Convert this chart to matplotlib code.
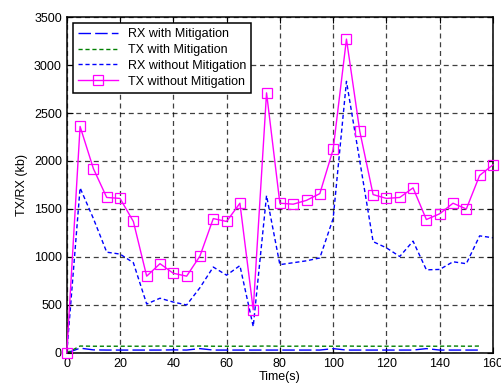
import matplotlib
matplotlib.use("Agg")
import matplotlib.pyplot as plt

plt.rcParams['font.family'] = ['Liberation Sans', 'DejaVu Sans']

# time axis (s)
t = [0, 5, 10, 15, 20, 25, 30, 35, 40, 45, 50, 55, 60, 65, 70, 75, 80,
     85, 90, 95, 100, 105, 110, 115, 120, 125, 130, 135, 140, 145, 150, 155, 160]

tx_without = [0, 2360, 1920, 1620, 1610, 1370, 800, 930, 830, 800, 1010, 1400,
              1370, 1560, 450, 2710, 1560, 1550, 1590, 1660, 2120, 3270, 2310,
              1650, 1610, 1620, 1720, 1390, 1450, 1560, 1500, 1850, 1960]

rx_without = [0, 1720, 1400, 1050, 1030, 940, 510, 570, 530, 500, 680, 895,
              810, 910, 275, 1640, 920, 940, 960, 990, 1400, 2830, 2000,
              1160, 1095, 1005, 1165, 866, 870, 950, 930, 1220, 1200]

# with mitigation: both stop at 155 s
t_mit = t[:-1]
tx_with = [0, 72, 70, 70, 70, 70, 70, 72, 70, 70, 72, 70, 70, 70, 70, 72, 70,
           70, 72, 70, 70, 72, 70, 70, 70, 70, 72, 70, 70, 72, 70, 72]
rx_with = [0, 50, 32, 30, 30, 30, 30, 30, 32, 30, 45, 30, 30, 30, 30, 30, 30,
           30, 30, 30, 45, 30, 30, 30, 30, 30, 30, 45, 30, 30, 30, 30]

fig = plt.figure(figsize=(5.02, 3.87), dpi=100)
ax = fig.add_axes([0.133, 0.088, 0.849, 0.868])

ax.plot(t_mit, rx_with, color='#0000ff', lw=1.0, dashes=(9, 3), label='RX with Mitigation')
ax.plot(t_mit, tx_with, color='#008000', lw=1.0, dashes=(3, 2), label='TX with Mitigation')
ax.plot(t, rx_without, color='#0000ff', lw=1.0, dashes=(3, 2), label='RX without Mitigation')
ax.plot(t, tx_without, color='#ff00ff', lw=1.0, marker='s', ms=7, mfc='none',
        mec='#ff00ff', mew=0.9, label='TX without Mitigation', clip_on=False, zorder=5)

ax.set_xlim(0, 160)
ax.set_ylim(0, 3500)
ax.set_xticks(range(0, 161, 20))
ax.set_yticks(range(0, 3501, 500))
ax.grid(True, color='black', ls=(0, (4, 3)), lw=0.9, alpha=0.75)
ax.tick_params(direction='in', top=True, right=True, labelsize=9, length=4)
for s in ax.spines.values():
    s.set_linewidth(1.1)

ax.set_xlabel('Time(s)', fontsize=9, labelpad=1)
ax.set_ylabel('TX/RX (kb)', fontsize=9, labelpad=4)

leg = ax.legend(loc='upper left', fontsize=9, fancybox=False, framealpha=1,
                edgecolor='black', handlelength=3.2, borderpad=0.4,
                labelspacing=0.3, bbox_to_anchor=(0.0, 1.0))
leg.get_frame().set_linewidth(1.1)

fig.savefig('out.png', dpi=100)
